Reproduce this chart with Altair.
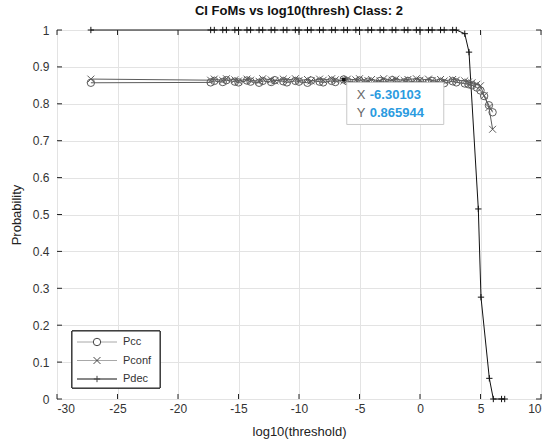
import altair as alt
import pandas as pd

# ---------------- data ----------------
series_names = ["Pcc", "Pconf", "Pdec"]

x_cc = [-27.2, -17.301, -17, -16.301, -16, -15.301, -15, -14.301, -14, -13.301, -13,
        -12.301, -12, -11.301, -11, -10.301, -10, -9.301, -9, -8.301, -8, -7.301, -7,
        -6.301, -6, -5.301, -5, -4.301, -4, -3.301, -3, -2.301, -2, -1.301, -1, -0.301, 0,
        0.699, 1, 1.699, 2, 2.699, 3, 3.699, 4, 4.301, 4.699, 5.0, 5.301, 5.699, 6.0]
pcc = [0.857, 0.858, 0.862, 0.859, 0.864, 0.860, 0.858, 0.863, 0.860, 0.857, 0.862,
       0.859, 0.864, 0.861, 0.858, 0.862, 0.860, 0.857, 0.863, 0.860, 0.858, 0.862, 0.859,
       0.866, 0.861, 0.858, 0.863, 0.860, 0.857, 0.862, 0.859, 0.864, 0.860, 0.858, 0.862,
       0.859, 0.861, 0.857, 0.862, 0.859, 0.856, 0.861, 0.858, 0.855, 0.853, 0.850, 0.844,
       0.836, 0.821, 0.796, 0.777]
pconf = [0.867, 0.864, 0.867, 0.863, 0.868, 0.865, 0.862, 0.867, 0.864, 0.861, 0.868,
         0.865, 0.862, 0.867, 0.864, 0.868, 0.863, 0.866, 0.862, 0.867, 0.864, 0.868, 0.865,
         0.862, 0.867, 0.865, 0.868, 0.863, 0.866, 0.862, 0.868, 0.864, 0.867, 0.863, 0.866,
         0.868, 0.864, 0.867, 0.863, 0.866, 0.862, 0.866, 0.864, 0.862, 0.859, 0.857, 0.853,
         0.849, 0.822, 0.790, 0.731]

x_dec = [-27.2, -17.301, -17, -16.301, -16, -15.301, -15, -14.301, -14, -13.301, -13,
         -12.301, -12, -11.301, -11, -10.301, -10, -9.301, -9, -8.301, -8, -7.301, -7,
         -6.301, -6, -5.301, -5, -4.301, -4, -3.301, -3, -2.301, -2, -1.301, -1, -0.301, 0,
         0.699, 1, 1.699, 2, 2.699, 3, 3.699, 4.05, 4.82, 5.04, 5.73, 6.06, 6.74, 7.0]
pdec = [1, 1, 1, 1, 1, 1, 1, 1, 1, 1, 1,
        1, 1, 1, 1, 1, 1, 1, 1, 1, 1, 1, 1,
        1, 1, 1, 1, 1, 1, 1, 1, 1, 1, 1, 1, 1, 1,
        1, 1, 1, 1, 1, 1, 0.99, 0.94, 0.515, 0.276, 0.056, 0.0, 0.0, 0.0]

tip_x = [-6.30103]
tip_y = [0.865944]
tip_x_text = ["-6.30103"]
tip_y_text = ["0.865944"]

x_ticks = [-30, -25, -20, -15, -10, -5, 0, 5, 10]
y_ticks = [0, 0.1, 0.2, 0.3, 0.4, 0.5, 0.6, 0.7, 0.8, 0.9, 1]

# ---------------- tables ----------------
df = pd.concat([
    pd.DataFrame({"x": x_cc, "y": pcc, "series": "Pcc"}),
    pd.DataFrame({"x": x_cc, "y": pconf, "series": "Pconf"}),
    pd.DataFrame({"x": x_dec, "y": pdec, "series": "Pdec"}),
], ignore_index=True)
tip_df = pd.DataFrame({"x": tip_x, "y": tip_y, "xt": tip_x_text, "yt": tip_y_text})
xt_df = pd.DataFrame({"t": x_ticks})
yt_df = pd.DataFrame({"t": y_ticks})
leg_df = pd.DataFrame({"label": series_names, "row": [0, 1, 2]})

W, H = 484, 369
FONT = "Liberation Sans"

X_PATH = "M-1,-1L1,1M-1,1L1,-1"
PLUS_PATH = "M-1,0H1M0,-1V1"

xs = alt.Scale(domain=[-30, 10], nice=False, zero=False)
ys = alt.Scale(domain=[0, 1], nice=False, zero=False)

stroke_scale = alt.Scale(domain=series_names, range=["#5c5c5c", "#5c5c5c", "#111111"])
shape_scale = alt.Scale(domain=series_names, range=["circle", X_PATH, PLUS_PATH])
size_scale = alt.Scale(domain=series_names, range=[55, 40, 90])

x_axis = alt.Axis(values=x_ticks, title="log10(threshold)", grid=True,
                  tickSize=0, domain=False, labelPadding=4, labelOverlap=False,
                  labelExpr="toString(datum.value)", titlePadding=11)
y_axis = alt.Axis(values=y_ticks, title="Probability", grid=True,
                  labelExpr="toString(datum.value)", labelOverlap=False,
                  tickSize=0, domain=False, labelPadding=8, titlePadding=9)


def XQ(f):
    return alt.X(f, type="quantitative", scale=xs, axis=x_axis)


def YQ(f):
    return alt.Y(f, type="quantitative", scale=ys, axis=y_axis)


base = alt.Chart(df)
lines = base.mark_line(strokeWidth=1).encode(
    x=XQ("x"), y=YQ("y"), detail="series:N",
    stroke=alt.Stroke("series:N", scale=stroke_scale, legend=None),
)
points = base.mark_point(filled=False, strokeWidth=1, opacity=1).encode(
    x=XQ("x"), y=YQ("y"),
    shape=alt.Shape("series:N", scale=shape_scale, legend=None),
    size=alt.Size("series:N", scale=size_scale, legend=None),
    stroke=alt.Stroke("series:N", scale=stroke_scale, legend=None),
)

# inward ticks
tick_bottom = alt.Chart(xt_df).mark_rule(color="#262626", strokeWidth=1).encode(
    x=XQ("t"), y=alt.value(H), y2=alt.value(H - 5))
tick_top = alt.Chart(xt_df).mark_rule(color="#262626", strokeWidth=1).encode(
    x=XQ("t"), y=alt.value(0), y2=alt.value(5))
tick_left = alt.Chart(yt_df).mark_rule(color="#262626", strokeWidth=1).encode(
    y=YQ("t"), x=alt.value(0), x2=alt.value(5))
tick_right = alt.Chart(yt_df).mark_rule(color="#262626", strokeWidth=1).encode(
    y=YQ("t"), x=alt.value(W), x2=alt.value(W - 5))

# data tip
tip = alt.Chart(tip_df)
tip_box = tip.mark_rect(fill="white", stroke="#c8c8c8", strokeWidth=1,
                        xOffset=3, x2Offset=100, yOffset=3, y2Offset=45).encode(
    x=XQ("x"), x2="x:Q", y=YQ("y"), y2="y:Q")
tip_dot = tip.mark_square(size=14, color="#111", opacity=1).encode(x=XQ("x"), y=YQ("y"))
tip_xl = tip.mark_text(text="X", align="left", baseline="middle", dx=13, dy=16,
                       font=FONT, fontSize=13, color="#666").encode(x=XQ("x"), y=YQ("y"))
tip_yl = tip.mark_text(text="Y", align="left", baseline="middle", dx=13, dy=34,
                       font=FONT, fontSize=13, color="#666").encode(x=XQ("x"), y=YQ("y"))
tip_xv = tip.mark_text(align="left", baseline="middle", dx=26, dy=16, font=FONT,
                       fontSize=13, fontWeight="bold", color="#2b9be0").encode(
    x=XQ("x"), y=YQ("y"), text="xt:N")
tip_yv = tip.mark_text(align="left", baseline="middle", dx=26, dy=34, font=FONT,
                       fontSize=13, fontWeight="bold", color="#2b9be0").encode(
    x=XQ("x"), y=YQ("y"), text="yt:N")

main = alt.layer(lines, points, tick_bottom, tick_top, tick_left, tick_right,
                 tip_box, tip_dot, tip_xl, tip_yl, tip_xv, tip_yv)

# legend (drawn inside the axes, bottom-left)
leg_y = alt.Y("row:Q", scale=alt.Scale(domain=[0, 2], range=[312, 349], nice=False,
                                       zero=False), axis=None)
leg = alt.Chart(leg_df)
leg_box = leg.mark_rect(fill="white", stroke="#262626", strokeWidth=1).encode(
    x=alt.value(15), x2=alt.value(103), y=alt.value(301), y2=alt.value(358))
leg_line = leg.mark_rule(strokeWidth=1).encode(
    x=alt.value(20), x2=alt.value(60), y=leg_y,
    stroke=alt.Stroke("label:N", scale=alt.Scale(domain=series_names,
                                                  range=["#a8a8a8", "#a8a8a8", "#111111"]),
                      legend=None))
leg_pt = leg.mark_point(fill="white", stroke="#444", strokeWidth=1, opacity=1).encode(
    x=alt.value(40), y=leg_y,
    shape=alt.Shape("label:N", scale=shape_scale, legend=None),
    size=alt.Size("label:N", scale=size_scale, legend=None))
leg_txt = leg.mark_text(align="left", baseline="middle", font=FONT, fontSize=11,
                        color="#333").encode(x=alt.value(66), y=leg_y, text="label:N")
legend = alt.layer(leg_box, leg_line, leg_pt, leg_txt)

chart = alt.layer(main, legend).resolve_scale(
    y="independent", shape="independent", size="independent", stroke="independent"
).properties(
    width=W, height=H,
    title=alt.TitleParams("CI FoMs vs log10(thresh) Class: 2", font=FONT, fontSize=13,
                          fontWeight="bold", color="#111", anchor="middle", offset=6),
    autosize=alt.AutoSizeParams(type="none"),
    padding={"left": 57, "top": 30, "right": 9, "bottom": 45},
).configure_view(stroke="#262626", strokeWidth=1).configure_axis(
    labelFont=FONT, titleFont=FONT, labelFontSize=12, titleFontSize=13,
    labelColor="#333", titleColor="#222", gridColor="#e3e3e3", titleFontWeight="normal",
).configure_axisY(titleAngle=270)

chart.save("out.html", embed_options={"renderer": "svg", "actions": False})
